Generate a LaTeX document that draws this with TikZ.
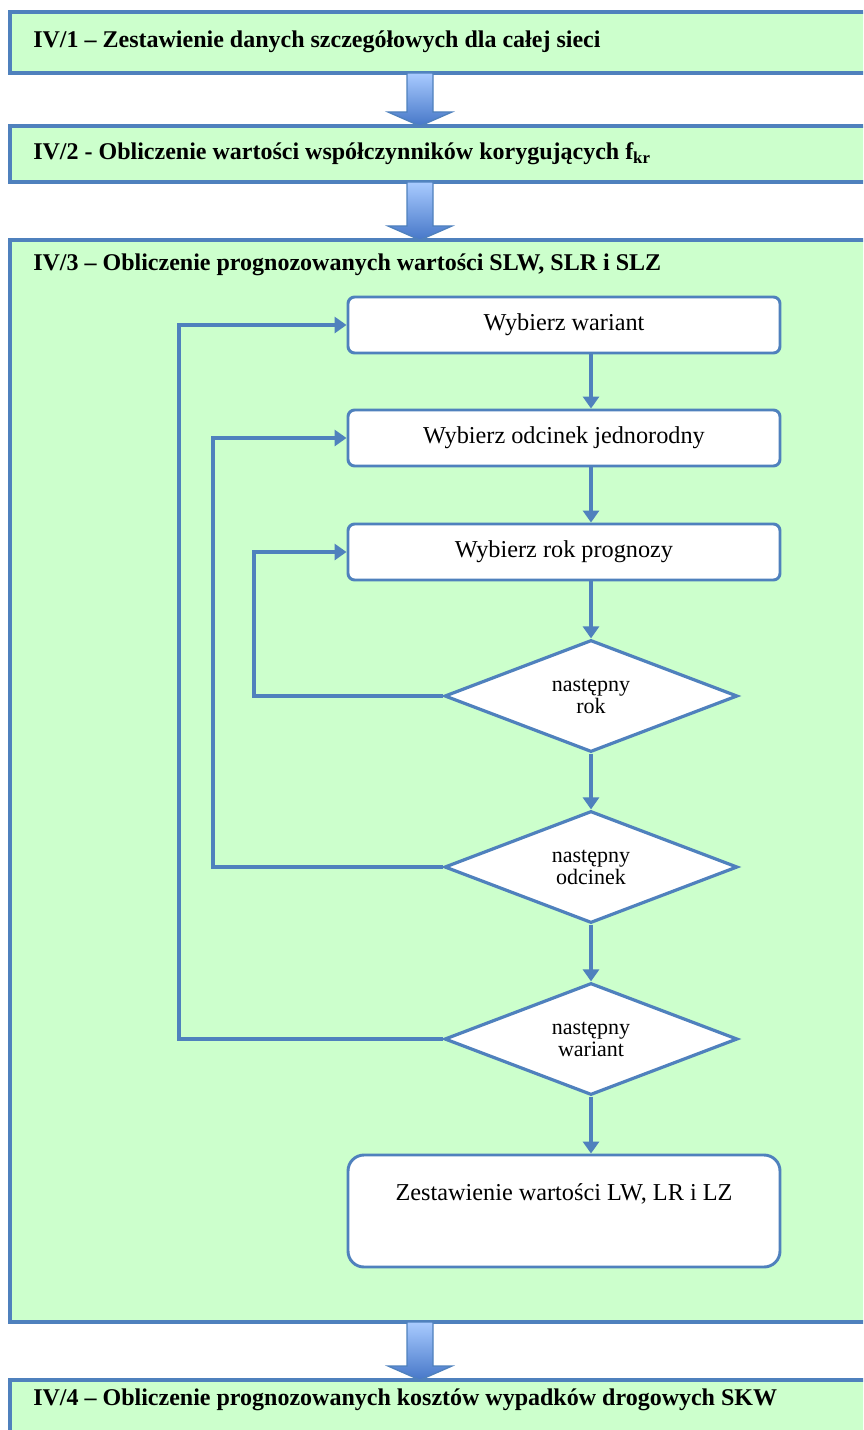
\documentclass[tikz,border=0pt]{standalone}
\usepackage{fontspec}
\setmainfont{Liberation Serif}
\usetikzlibrary{shapes.geometric,arrows.meta}
\definecolor{lblue}{HTML}{4F81BD}
\definecolor{lgreen}{HTML}{CCFFCC}
\definecolor{atop}{HTML}{A9CBFF}
\definecolor{abot}{HTML}{4677C8}
\begin{document}
\begin{tikzpicture}[x=0.75pt,y=-0.75pt,
 stage/.style={draw=lblue,line width=2.6pt,fill=lgreen,anchor=north west,outer sep=0pt,inner sep=0pt,minimum width=648.75pt},
 title/.style={anchor=west,font=\bfseries\fontsize{18}{20}\selectfont,inner sep=0pt},
 procbox/.style={draw=lblue,line width=2.2pt,fill=white,rounded corners=5pt,minimum width=324pt,minimum height=42pt,inner sep=0pt,font=\fontsize{18.2}{20}\selectfont},
 decision/.style={diamond,draw=lblue,line width=2.4pt,fill=white,minimum width=219.75pt,minimum height=84pt,inner sep=0pt,aspect=2.6,align=center,font=\fontsize{16.5}{16.5}\selectfont},
 flow/.style={draw=lblue,line width=3.2pt,-{Triangle[length=9pt,width=12pt]}},
 blockarrow/.style={top color=atop,bottom color=abot,draw=lblue,line width=1pt}
]
\useasboundingbox (0,0) rectangle (863,1430);
\clip (0,0) rectangle (863,1430);
% stages
\node[stage,minimum height=45.75pt] (s1) at (10,12) {};
\node[stage,minimum height=42pt] (s2) at (10,126) {};
\node[stage,minimum height=811.5pt] (s3) at (10,240) {};
\node[stage,minimum height=52.5pt] (s4) at (10,1380) {};
\node[title] (t1) at (33,42) {IV/1 – Zestawienie danych szczegółowych dla całej sieci};
\node[title] (t2) at (33,154) {IV/2 - Obliczenie wartości współczynników korygujących f\textsubscript{kr}};
\node[title] (t3) at (33,265) {IV/3 – Obliczenie prognozowanych wartości SLW, SLR i SLZ};
\node[title] (t4) at (33,1400) {IV/4 – Obliczenie prognozowanych kosztów wypadków drogowych SKW};
% block arrows
\shade[blockarrow] (s1.south -| 407,0) -- (433,73) -- (433,112) -- (452,112) -- (420,126) -- (388,112) -- (407,112) -- cycle;
\shade[blockarrow] (s2.south -| 407,0) -- (433,182) -- (433,226) -- (452,226) -- (420,240) -- (388,226) -- (407,226) -- cycle;
\shade[blockarrow] (s3.south -| 407,0) -- (433,1322) -- (433,1366) -- (452,1366) -- (420,1380) -- (388,1366) -- (407,1366) -- cycle;
% flowchart
\node[procbox] (b1) at (564,325) {Wybierz wariant};
\node[procbox] (b2) at (564,438) {Wybierz odcinek jednorodny};
\node[procbox] (b3) at (564,552) {Wybierz rok prognozy};
\node[decision] (d1) at (591,696) {następny\\rok};
\node[decision] (d2) at (591,867) {następny\\odcinek};
\node[decision] (d3) at (591,1039) {następny\\wariant};
\node[procbox,minimum height=84pt,rounded corners=12pt] (b4) at (564,1211) {};
\node[font=\fontsize{18.2}{20}\selectfont,inner sep=0pt] (t5) at (564,1194) {Zestawienie wartości LW, LR i LZ};
\draw[flow] (b1.south -| d1.north) -- (b2.north -| d1.north);
\draw[flow] (b2.south -| d1.north) -- (b3.north -| d1.north);
\draw[flow] (b3.south -| d1.north) -- (d1.north);
\draw[flow] (d1.south) -- (d2.north);
\draw[flow] (d2.south) -- (d3.north);
\draw[flow] (d3.south) -- (b4.north -| d3.south);
\draw[flow] (d1.west) -- ++(-189,0) |- (b3.west);
\draw[flow] (d2.west) -- ++(-230,0) |- (b2.west);
\draw[flow] (d3.west) -- ++(-264,0) |- (b1.west);
\end{tikzpicture}
\end{document}
